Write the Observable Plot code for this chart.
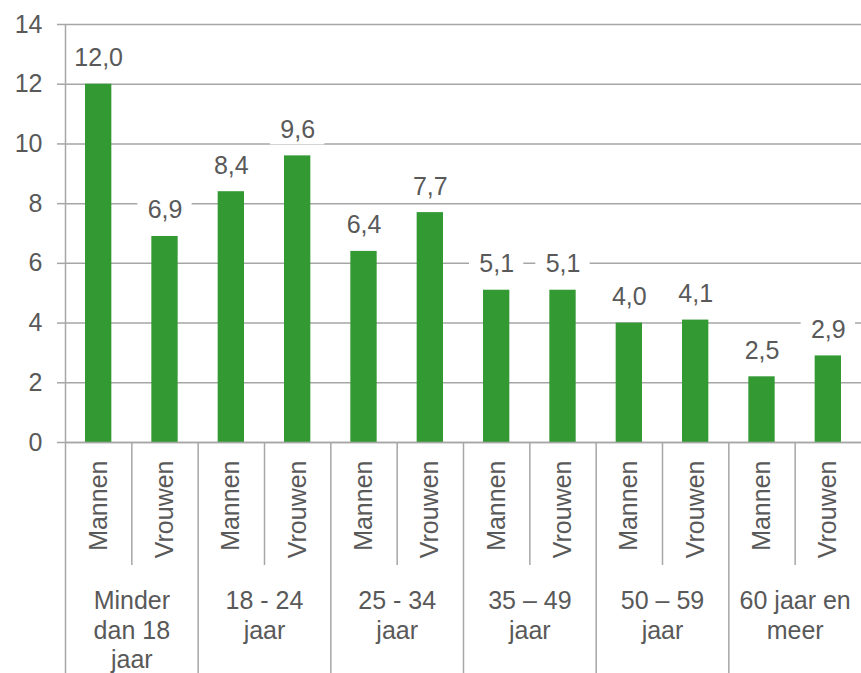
<!DOCTYPE html>
<html><head><meta charset="utf-8">
<script src="https://cdn.jsdelivr.net/npm/d3@7"></script>
<script src="https://cdn.jsdelivr.net/npm/@observablehq/plot@0.6"></script>
<style>body{margin:0;background:#fff}</style>
</head><body><div id="chart"></div>
<script>
const groups = ["Minder dan 18 jaar","18 - 24 jaar","25 - 34 jaar","35 – 49 jaar","50 – 59 jaar","60 jaar en meer"];
const groupLabels = ["Minder\ndan 18\njaar","18 - 24\njaar","25 - 34\njaar","35 – 49\njaar","50 – 59\njaar","60 jaar en\nmeer"];
const sexes = ["Mannen","Vrouwen"];
const mannen = [12.0, 8.4, 6.4, 5.1, 4.0, 2.2];
const vrouwen = [6.9, 9.6, 7.7, 5.1, 4.1, 2.9];
const mannenLabels = ["12,0","8,4","6,4","5,1","4,0","2,5"];
const vrouwenLabels = ["6,9","9,6","7,7","5,1","4,1","2,9"];
const yTicks = [0,2,4,6,8,10,12,14];

const W = 861, H = 673, mL = 65, mR = 0, mT = 24, mB = 231;
const k = 14 / (H - mT - mB); // data units per pixel
const data = [];
groups.forEach((g, i) => {
  data.push({key: g + "|" + sexes[0], group: g, sex: sexes[0], value: mannen[i], label: mannenLabels[i], gi: i});
  data.push({key: g + "|" + sexes[1], group: g, sex: sexes[1], value: vrouwen[i], label: vrouwenLabels[i], gi: i});
});
const keys = data.map(d => d.key);
const bw = (W - mL - mR) / keys.length;
const green = "#339933", grid = "#a6a6a6", txt = "#595959";
const font = "Liberation Sans, Arial, sans-serif";
const fs = 25;

const chart = Plot.plot({
  width: W, height: H,
  marginLeft: mL, marginRight: mR, marginTop: mT, marginBottom: mB,
  style: {fontFamily: font, background: "#fff"},
  x: {type: "band", domain: keys, padding: 0, round: false, axis: null},
  y: {domain: [0, 14], axis: null},
  marks: [
    Plot.ruleY(yTicks, {stroke: grid, strokeWidth: 1.5}),
    Plot.axisY({ticks: yTicks, tickSize: 8, tickPadding: 15, tickFormat: d => String(d), label: null,
      stroke: grid, strokeWidth: 1.5, fill: txt, fontSize: fs, fontFamily: font}),
    Plot.barY(data, {x: "key", y: "value", fill: green, insetLeft: 20, insetRight: 20}),
    Plot.barY(data, {x: "key", y1: d => d.value + 11 * k, y2: d => d.value + 41 * k, fill: "white", insetLeft: 6, insetRight: 6}),
    Plot.text(data, {x: "key", y: "value", text: "label", dy: -26, lineAnchor: "middle",
      fill: txt, fontSize: fs, fontFamily: font}),
    Plot.ruleX([keys[0]], {dx: -bw / 2, y1: 14, y2: -mB * k, stroke: grid, strokeWidth: 1.5}),
    Plot.ruleX(data.filter(d => d.sex === sexes[0] && d.gi > 0), {x: "key", dx: -bw / 2, y1: 0, y2: -mB * k, stroke: grid, strokeWidth: 1.5}),
    Plot.ruleX(data.filter(d => d.sex === sexes[1]), {x: "key", dx: -bw / 2, y1: 0, y2: -123 * k, stroke: grid, strokeWidth: 1.5}),
    Plot.ruleY([0], {stroke: grid, strokeWidth: 1.5}),
    Plot.text(data, {x: "key", y: 0, text: "sex", rotate: -90, textAnchor: "end", lineAnchor: "middle", dy: 18,
      fill: txt, fontSize: fs, fontFamily: font}),
    Plot.text(data.filter(d => d.sex === sexes[0]), {x: "key", y: 0, text: d => groupLabels[d.gi], dx: bw / 2, dy: 146,
      lineAnchor: "top", lineHeight: 1.18, textAnchor: "middle", fill: txt, fontSize: fs, fontFamily: font})
  ]
});
document.getElementById("chart").appendChild(chart);
</script>
</body></html>
